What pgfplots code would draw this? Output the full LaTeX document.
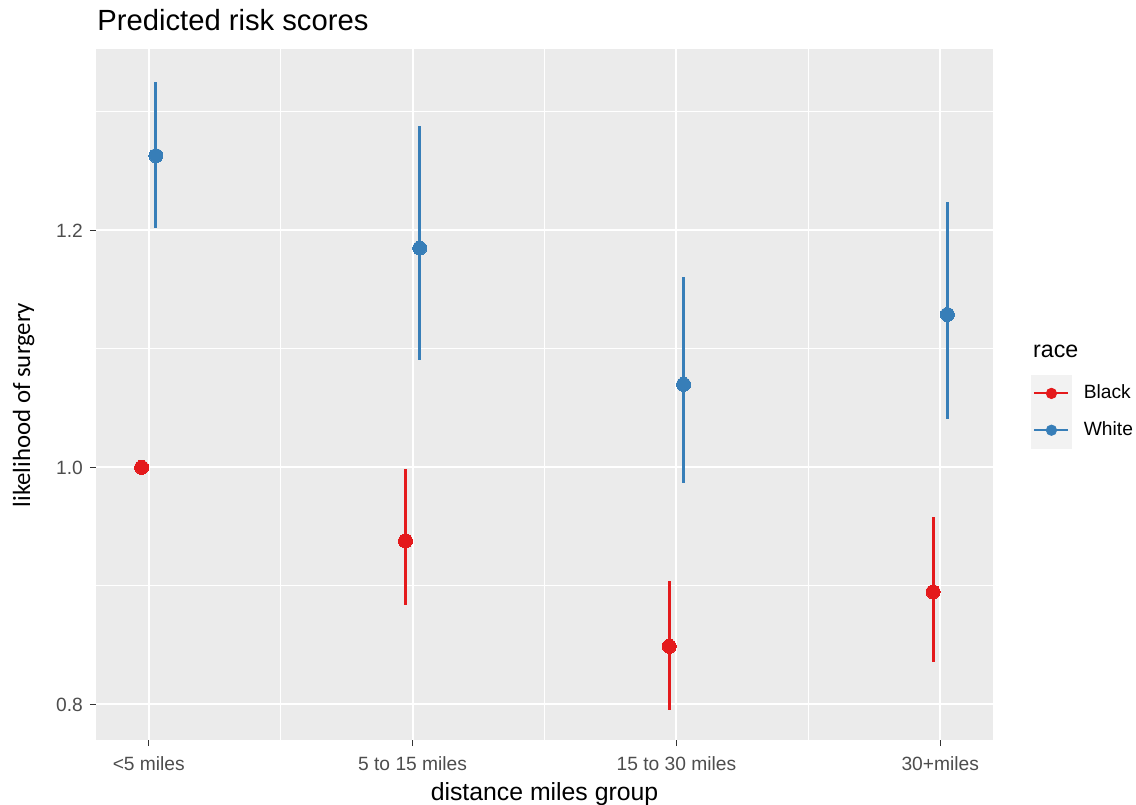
\documentclass[border=0pt]{standalone}
\usepackage{pgfplots}
\pgfplotsset{compat=1.18}
\usepackage{pgfplotstable}
\usepackage{fontspec}
\setmainfont{Liberation Sans}
\newfontfamily\carlito{Carlito}

\definecolor{panel}{HTML}{EBEBEB}
\definecolor{keybg}{HTML}{F2F2F2}
\definecolor{redpt}{HTML}{E41A1C}
\definecolor{bluept}{HTML}{377EB8}
\definecolor{ticktext}{HTML}{4D4D4D}
\definecolor{tickmark}{HTML}{333333}

% predicted likelihood with upper/lower interval offsets (x dodged around each group)
\pgfplotstableread{
x       y      ep     em
-0.027  1.000  0.000  0.000
0.973   0.938  0.061  0.054
1.973   0.849  0.055  0.054
2.973   0.895  0.063  0.059
}\blackdata

\pgfplotstableread{
x       y      ep     em
0.027   1.263  0.062  0.061
1.027   1.185  0.103  0.094
2.027   1.070  0.091  0.083
3.027   1.129  0.095  0.088
}\whitedata

% legend key: grey square, short line with a dot
\pgfplotsset{
  racekey/.style={legend image code/.code={
    \fill[keybg] (0pt,-9pt) rectangle (20pt,9pt);
    \draw[#1, line width=1pt] (1.5pt,0pt) -- (18.5pt,0pt);
    \fill[#1] (10pt,0pt) circle (2.6pt);}},
}

\begin{document}
\begin{tikzpicture}
\begin{axis}[
  scale only axis, width=448.5pt, height=345.5pt,
  xmin=-0.2, xmax=3.2, ymin=0.770, ymax=1.353,
  axis lines*=left, axis line style={draw=none},
  axis background/.style={fill=panel},
  xtick={0,1,2,3},
  xticklabels={{<5 miles},{5 to 15 miles},{15 to 30 miles},{30+miles}},
  minor xtick={0.5,1.5,2.5},
  ytick={0.8,1.0,1.2}, minor ytick={0.9,1.1,1.3},
  grid=both,
  major grid style={white, line width=1pt},
  minor grid style={white, line width=0.5pt},
  tick align=outside,
  major tick length=3pt, minor tick length=0pt,
  tick style={draw=tickmark, line width=0.5pt},
  /pgf/number format/assume math mode=true,
  yticklabel style={/pgf/number format/.cd, fixed, fixed zerofill, precision=1, /tikz/.cd,
    font=\fontsize{9.6pt}{11pt}\selectfont, text=ticktext, inner sep=0pt, anchor=east, xshift=-3.35pt},
  xticklabel style={font=\fontsize{9.6pt}{11pt}\selectfont, text=ticktext, inner sep=0pt,
    anchor=base, yshift=-12pt},
  legend style={at={(1.0424,0.5282)}, anchor=north west, draw=none, fill=none,
    inner sep=0pt, outer sep=0pt, row sep=0pt,
    font=\fontsize{9.6pt}{11pt}\selectfont,
    nodes={inner sep=0pt},
    /tikz/every odd column/.append style={column sep=6pt}},
  legend cell align=left,
]
\coordinate (SW) at (rel axis cs:0,0);
\coordinate (NE) at (rel axis cs:1,1);
\coordinate (NW) at (rel axis cs:0,1);
\coordinate (S)  at (rel axis cs:0.5,0);
\coordinate (YL) at (rel axis cs:0,0.4848);

\addplot[only marks, mark=*, mark size=3.5pt,
  mark options={draw=redpt, fill=redpt, line width=0pt},
  racekey=redpt,
  error bars/.cd, y dir=both, y explicit, error mark=none,
  error bar style={line width=1.5pt, redpt}]
  table[x=x, y=y, y error plus=ep, y error minus=em] {\blackdata};
\addlegendentry{Black}

\addplot[only marks, mark=*, mark size=3.5pt,
  mark options={draw=bluept, fill=bluept, line width=0pt},
  racekey=bluept,
  error bars/.cd, y dir=both, y explicit, error mark=none,
  error bar style={line width=1.5pt, bluept}]
  table[x=x, y=y, y error plus=ep, y error minus=em] {\whitedata};
\addlegendentry{White}
\end{axis}

\node[anchor=base west, inner sep=0pt, font=\fontsize{14.6pt}{17pt}\selectfont]
  at ([shift={(0.5pt,9.5pt)}]NW) {Predicted risk scores};
\node[anchor=base, inner sep=0pt, font=\fontsize{12.4pt}{14pt}\selectfont]
  at ([yshift=-30.25pt]S) {distance miles group};
\node[anchor=base, inner sep=0pt, rotate=90, font=\carlito\fontsize{12.4pt}{14pt}\selectfont]
  at ([xshift=-33pt]YL) {likelihood of surgery};
\node[anchor=base west, inner sep=0pt, font=\fontsize{11.6pt}{14pt}\selectfont]
  at ([shift={(468.35pt,191.5pt)}]SW) {race};

\pgfresetboundingbox
\path[use as bounding box] ([shift={(-48pt,-32pt)}]SW) rectangle ([shift={(71.5pt,24.5pt)}]NE);
\end{tikzpicture}
\end{document}
